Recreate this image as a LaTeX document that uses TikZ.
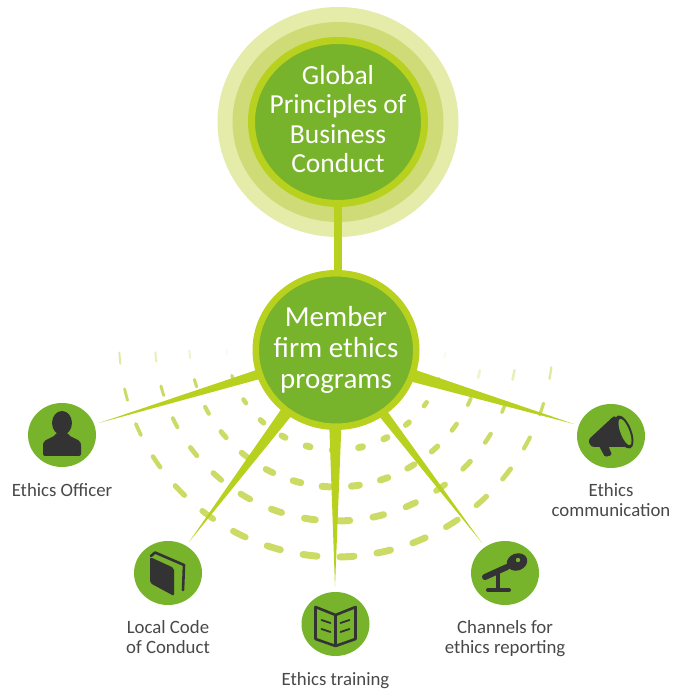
\documentclass[tikz,border=0pt]{standalone}
\usepackage{fontspec}
\setmainfont{Carlito}
\usetikzlibrary{calc,positioning,shapes.geometric}

\definecolor{leaf}{HTML}{78B32C}
\definecolor{lime}{HTML}{B8D01E}
\definecolor{haloA}{HTML}{E5EBA9}
\definecolor{haloB}{HTML}{CFDB76}
\definecolor{ringdash}{HTML}{CCDB66}
\definecolor{icon}{HTML}{333333}
\definecolor{caption}{HTML}{484848}

\tikzset{
  halo/.style={ellipse,inner sep=0pt,outer sep=0pt},
  bigdisc/.style={ellipse,draw=lime,fill=leaf,line width=7pt,inner sep=0pt,outer sep=0pt},
  bigtext/.style={text=white,align=center},
  smalldisc/.style={ellipse,fill=leaf,minimum width=68pt,minimum height=64pt,inner sep=0pt,outer sep=0pt},
  captiontext/.style={text=caption,align=center,inner sep=0pt,font=\fontsize{18.8}{20}\selectfont},
  spoke/.style={fill=lime},
  stem/.style={draw=lime,line width=8pt},
  iconline/.style={draw=icon,line cap=round,line join=round},
}

\begin{document}
\begin{tikzpicture}[x=1pt,y=1pt]
  \useasboundingbox (0,0) rectangle (700,700);

  % dashed rings
  \coordinate (ringcentre) at (336,360);
  \foreach \rr/\first/\gap/\last/\dashlen/\fade in {217/4.8/9.79/17/21/0.6, 181/5.4/10.9/15/18/0.45, 147/5.6/11.5/14/15/0.3, 110/6.3/13.8/12/11/0.12} {
    \foreach \k in {0,...,\last} {
      \pgfmathsetmacro{\a}{\first+\gap*\k}
      \pgfmathsetmacro{\w}{1.5+5.5*sin(\a)}
      \pgfmathsetmacro{\d}{(\dashlen*(0.6+0.4*sin(\a))-\w)/2/\rr*57.3}
      \pgfmathsetmacro{\op}{(\a<10||\a>165)?\fade:1}
      \draw[ringdash,line cap=round,line width=\w pt,opacity=\op]
        ($(ringcentre)+(180+\a-\d:\rr)$) arc[start angle=180+\a-\d,end angle=180+\a+\d,radius=\rr pt];
    }
  }

  % top circle
  \node[halo,fill=haloA,minimum width=241pt,minimum height=230pt] (haloouter) at (338,578) {};
  \node[halo,fill=haloB,minimum width=211pt,minimum height=200pt] (haloinner) at (338,578) {};
  \node[bigdisc,minimum width=173pt,minimum height=163pt,
        label={[bigtext,yshift=3pt,font=\fontsize{27.5}{29.5}\selectfont]center:{Global\\Principles of\\Business\\Conduct}}] (global) at (338,578) {};

  % hub
  \node[bigdisc,line width=6.5pt,minimum width=160.5pt,minimum height=153.5pt,
        label={[bigtext,font=\fontsize{29}{31}\selectfont]center:{Member\\firm ethics\\programs}}] (member) at (336,350) {};
  \draw[stem] (global.south) -- (global.south |- member.north);

  % small discs
  \node[smalldisc] (officer)  at (62,265)    {};
  \node[smalldisc] (code)     at (168,127)   {};
  \node[smalldisc] (training) at (335.5,76)  {};
  \node[smalldisc] (channels) at (505,127)   {};
  \node[smalldisc] (comms)    at (611,264)   {};

  \node[captiontext] (officerlabel)  [below=16pt of officer]  {Ethics Officer};
  \node[captiontext] (codelabel)     [below=15pt of code]     {Local Code\\of Conduct};
  \node[captiontext] (traininglabel) [below=16pt of training] {Ethics training};
  \node[captiontext] (channelslabel) [below=15pt of channels] {Channels for\\ethics reporting};
  \node[captiontext] (commslabel)    [below=15pt of comms]    {Ethics\\communication};

  % spokes
  \coordinate (tipofficer)  at (99,277);
  \coordinate (tipcode)     at (189,158);
  \coordinate (tiptraining) at (335,113);
  \coordinate (tipchannels) at (482,157);
  \coordinate (tipcomms)    at (574,276);
  \fill[spoke] (member.194.5) -- (tipofficer)  -- (member.201.7) -- cycle;
  \fill[spoke] (member.227.9) -- (tipcode)     -- (member.236.7) -- cycle;
  \fill[spoke] (member.265)   -- (tiptraining) -- (member.274.3) -- cycle;
  \fill[spoke] (member.303)   -- (tipchannels) -- (member.310.6) -- cycle;
  \fill[spoke] (member.346)   -- (tipcomms)    -- (member.337.2) -- cycle;

  % person
  \begin{scope}[shift={(officer.center)}]
    \fill[icon] (0,12) ellipse [x radius=10,y radius=12];
    \fill[icon,rounded corners=2pt] (-19,-21) -- (19,-21) -- (19,-10)
      .. controls (18,-4) and (8,-3) .. (5,3) -- (-5,3)
      .. controls (-8,-3) and (-18,-4) .. (-19,-10) -- cycle;
  \end{scope}

  % closed book
  \begin{scope}[shift={(code.center)}]
    \fill[icon,rounded corners=2pt] (-18,16) -- (6,5) -- (6,-23) -- (-18,-10) -- cycle;
    \draw[iconline,line width=2.6pt] (-17,17) -- (-13,20.5) -- (16,8) -- (15,-17);
  \end{scope}

  % open book
  \begin{scope}[shift={(training.center)}]
    \draw[iconline,line width=2.6pt] (-20,17) -- (0,9) -- (20,17) -- (20,-15) -- (0,-22) -- (-20,-15) -- cycle;
    \draw[iconline,line width=2.2pt] (0,9) -- (0,-22);
    \foreach \yy in {4,-5} {
      \draw[iconline,line width=1.8pt] (-14,\yy) -- (-5,\yy-3);
      \draw[iconline,line width=1.8pt] (14,\yy) -- (5,\yy-3);
    }
  \end{scope}

  % microphone
  \begin{scope}[shift={(channels.center)}]
    \draw[iconline,line width=6pt] (-20,-4) -- (2,6);
    \fill[icon,rotate around={20:(12,11)}] (12,11) ellipse [x radius=10.5,y radius=8.5];
    \fill[leaf] (13,13) circle [radius=2.2];
    \draw[iconline,line width=4pt] (-7,-1) -- (-7,-17);
    \draw[iconline,line width=4pt] (-17,-17) -- (4,-17);
  \end{scope}

  % megaphone
  \begin{scope}[shift={(comms.center)}]
    \fill[icon,rounded corners=3pt] (-23,-4) -- (4,21) -- (19,-11) -- (-20,-11) -- cycle;
    \fill[icon,rounded corners=1.5pt] (-12,-10) -- (-6,-21) -- (1,-19) -- (-3,-9) -- cycle;
    \fill[icon,rotate around={21:(13,4)}] (13,4) ellipse [x radius=7.5,y radius=17.5];
    \fill[leaf,rotate around={21:(14,4)}] (14,4) ellipse [x radius=4.5,y radius=14];
  \end{scope}
\end{tikzpicture}
\end{document}
